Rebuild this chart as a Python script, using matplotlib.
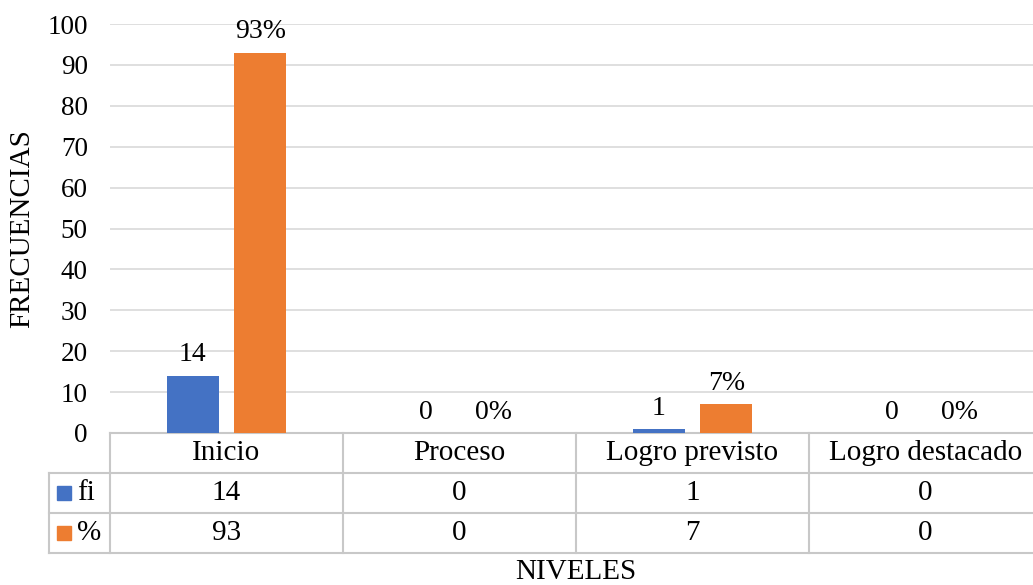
import numpy as np
import matplotlib.pyplot as plt
from matplotlib.patches import Rectangle
from matplotlib.lines import Line2D

niveles = ["Inicio", "Proceso", "Logro previsto", "Logro destacado"]
fi = [14, 0, 1, 0]
pct = [93, 0, 7, 0]
series_names = ["fi", "%"]

blue = "#4472C4"
orange = "#ED7D31"
grid_c = "#D9D9D9"
line_c = "#C8C8C8"

plt.rcParams["font.family"] = ["Liberation Serif", "DejaVu Serif"]

W, H = 1033, 585
fig = plt.figure(figsize=(W / 100, H / 100), dpi=100)
ax = fig.add_axes([110 / W, (H - 433) / H, (1042 - 110) / W, 409 / H])

x = np.arange(len(niveles))
bw = 0.223
off = 0.145
ax.bar(x - off, fi, bw, color=blue, zorder=3)
ax.bar(x + off, pct, bw, color=orange, zorder=3)

for xi, v in zip(x, fi):
    ax.annotate(str(v), (xi - off, v), xytext=(0, 6), textcoords="offset points",
                ha="center", va="bottom", fontsize=20)
for xi, v in zip(x, pct):
    ax.annotate(f"{v}%", (xi + off, v), xytext=(0, 6), textcoords="offset points",
                ha="center", va="bottom", fontsize=20)

ax.set_xlim(-0.5, len(niveles) - 0.5)
ax.set_ylim(0, 100)
ax.set_yticks(range(0, 101, 10))
ax.tick_params(axis="y", length=0, labelsize=19.5, pad=16)
ax.set_xticks([])
ax.yaxis.grid(True, color=grid_c, linewidth=1.2)
ax.set_axisbelow(True)
for s in ["top", "right", "left", "bottom"]:
    ax.spines[s].set_visible(False)

# data table below the axis
tr = ax.get_xaxis_transform()
row_h = 40 / 409
rows = [-row_h, -2 * row_h, -3 * row_h]
left_x = -0.5 - 61 / 233
n = len(niveles)

def hline(x0, x1, y):
    ax.add_line(Line2D([x0, x1], [y, y], transform=tr, color=line_c, lw=1.5, clip_on=False))

def vline(xx, y0, y1):
    ax.add_line(Line2D([xx, xx], [y0, y1], transform=tr, color=line_c, lw=1.5, clip_on=False))

hline(-0.5, n - 0.5, 0)
hline(left_x, n - 0.5, rows[0])
hline(left_x, n - 0.5, rows[1])
hline(left_x, n - 0.5, rows[2])
for b in np.arange(-0.5, n, 1.0):
    vline(b, 0, rows[2])
vline(left_x, rows[0], rows[2])

for xi, name in zip(x, niveles):
    ax.text(xi, -row_h / 2, name, transform=tr, ha="center", va="center", fontsize=21)
for r, (vals, name, col) in enumerate([(fi, series_names[0], blue), (pct, series_names[1], orange)]):
    yc = rows[r] - row_h / 2
    for xi, v in zip(x, vals):
        ax.text(xi, yc, str(v), transform=tr, ha="center", va="center", fontsize=21)
    ax.add_patch(Rectangle((left_x + 8 / 233, yc - 7 / 409), 14 / 233, 14 / 409,
                           transform=tr, color=col, clip_on=False))
    ax.text(left_x + 28 / 233, yc, name, transform=tr, ha="left", va="center", fontsize=21)

fig.text(576 / W, 1 - 572 / H, "NIVELES", ha="center", va="center", fontsize=21)
fig.text(22 / W, 1 - 229 / H, "FRECUENCIAS", ha="center", va="center", rotation=90, fontsize=21)

fig.savefig("out.png", dpi=100)
